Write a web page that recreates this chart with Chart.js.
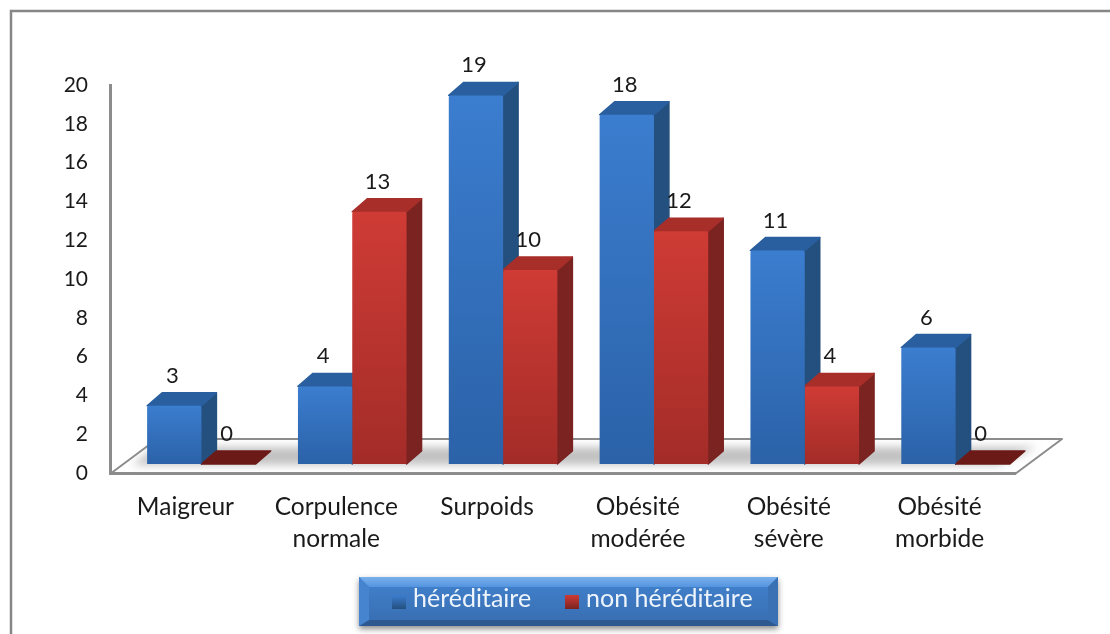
<!DOCTYPE html>
<html lang="fr">
<head>
<meta charset="utf-8">
<title>Hérédité et corpulence</title>
<script src="https://cdn.jsdelivr.net/npm/chart.js@4/dist/chart.umd.js"></script>
<style>
  html, body { margin: 0; padding: 0; background: #fff; }
  canvas { display: block; filter: blur(0.45px); }
</style>
</head>
<body>
<canvas id="chart" width="1110" height="634"></canvas>
<script>
'use strict';

// ── Data ──────────────────────────────────────────────────────────────────────

const categories = [
  'Maigreur',
  ['Corpulence', 'normale'],
  'Surpoids',
  ['Obésité', 'modérée'],
  ['Obésité', 'sévère'],
  ['Obésité', 'morbide'],
];
const hereditaire = [3, 4, 19, 18, 11, 6];
const nonHereditaire = [0, 13, 10, 12, 4, 0];

// ── Look ──────────────────────────────────────────────────────────────────────

const FONT = 'Lato, Carlito, sans-serif';
const TEXT = '#1a1a1a';
const LINE = '#8c8c8c';

// bars stand a bit behind the axis plane, and have this much depth
const FRONT_DX = 16, FRONT_DY = -9;
const DEPTH_DX = 15, DEPTH_DY = -13;
// floor depth, from the front edge to the back edge
const FLOOR_DX = 47, FLOOR_DY = -35;

const BLUE = { light: '#3b7dcf', dark: '#2b62a8', side: '#24507f', top: '#2a5f9f', zero: '#2a5f9f' };
const RED  = { light: '#cf3b35', dark: '#a32c28', side: '#7a2321', top: '#a82e2a', zero: '#6b1a17' };
const PALETTES = [BLUE, RED];

function frontGradient(pal) {
  return context => {
    if (!context.parsed) return pal.light;
    const { ctx, scales } = context.chart;
    const top = scales.y.getPixelForValue(context.parsed.y);
    const bottom = scales.y.getPixelForValue(0);
    if (!Number.isFinite(top) || !Number.isFinite(bottom)) return pal.light;
    const g = ctx.createLinearGradient(0, top, 0, bottom);
    g.addColorStop(0, pal.light);
    g.addColorStop(1, pal.dark);
    return g;
  };
}

// ── Frame and floor ───────────────────────────────────────────────────────────

const floorPlugin = {
  id: 'floor',
  beforeDatasetsDraw(chart) {
    const { ctx, chartArea: a } = chart;
    const y0 = chart.scales.y.getPixelForValue(0) + 1;

    ctx.save();
    // frame around the chart, only its top and left show in the crop
    ctx.strokeStyle = '#868686';
    ctx.lineWidth = 2.5;
    ctx.strokeRect(11, 11, chart.width + 20, chart.height + 20);

    // soft grey patch under the bars
    ctx.save();
    ctx.filter = 'blur(4px)';
    ctx.fillStyle = '#c2c2c2';
    ctx.beginPath();
    ctx.moveTo(a.left + 22, y0 - 9);
    ctx.lineTo(a.right - 17, y0 - 9);
    ctx.lineTo(a.right + 22, y0 - 27);
    ctx.lineTo(a.left + 46, y0 - 27);
    ctx.closePath();
    ctx.fill();
    ctx.restore();

    ctx.strokeStyle = LINE;
    ctx.lineWidth = 2;
    ctx.lineJoin = 'round';
    ctx.beginPath();
    ctx.moveTo(a.left, y0);
    ctx.lineTo(a.left + FLOOR_DX, y0 + FLOOR_DY);
    ctx.lineTo(a.right + FLOOR_DX, y0 + FLOOR_DY);
    ctx.lineTo(a.right, y0);
    ctx.stroke();
    ctx.restore();
  },
};

// ── 3D bars ───────────────────────────────────────────────────────────────────
// Sides and tops go down first, blue then red, since the red front has to
// cover the blue side. Chart.js then draws the front faces, shifted back.

const bar3dPlugin = {
  id: 'bar3d',
  beforeDatasetsDraw(chart) {
    const { ctx } = chart;
    ctx.save();
    ctx.translate(FRONT_DX, FRONT_DY);
    ctx.lineJoin = 'round';
    ctx.lineWidth = 1.5;
    chart.data.datasets.forEach((ds, i) => {
      const pal = PALETTES[i];
      chart.getDatasetMeta(i).data.forEach(bar => {
        const { x, y, width, base } = bar.getProps(['x', 'y', 'width', 'base']);
        const l = x - width / 2, r = x + width / 2;
        const zero = Math.abs(base - y) < 1;

        if (!zero) {
          ctx.fillStyle = ctx.strokeStyle = pal.side;
          ctx.beginPath();
          ctx.moveTo(r, y);
          ctx.lineTo(r + DEPTH_DX, y + DEPTH_DY);
          ctx.lineTo(r + DEPTH_DX, base + DEPTH_DY);
          ctx.lineTo(r, base);
          ctx.closePath();
          ctx.fill();
          ctx.stroke();
        }

        ctx.fillStyle = ctx.strokeStyle = zero ? pal.zero : pal.top;
        ctx.beginPath();
        ctx.moveTo(l, y);
        ctx.lineTo(l + DEPTH_DX, y + DEPTH_DY);
        ctx.lineTo(r + DEPTH_DX, y + DEPTH_DY);
        ctx.lineTo(r, y);
        ctx.closePath();
        ctx.fill();
        ctx.stroke();
      });
    });
    ctx.restore();
  },
  beforeDatasetDraw(chart) {
    chart.ctx.save();
    chart.ctx.translate(FRONT_DX, FRONT_DY);
  },
  afterDatasetDraw(chart) {
    chart.ctx.restore();
  },
};

// ── Value labels above each bar ───────────────────────────────────────────────

const valueLabelPlugin = {
  id: 'valueLabels',
  afterDatasetsDraw(chart) {
    const { ctx } = chart;
    ctx.save();
    ctx.font = `22px ${FONT}`;
    ctx.fillStyle = TEXT;
    ctx.textAlign = 'center';
    ctx.textBaseline = 'middle';
    chart.data.datasets.forEach((ds, i) => {
      chart.getDatasetMeta(i).data.forEach((bar, j) => {
        ctx.fillText(ds.data[j], bar.x + FRONT_DX - 2, bar.y + FRONT_DY + DEPTH_DY - 17);
      });
    });
    ctx.restore();
  },
};

// ── Legend box, bevelled ──────────────────────────────────────────────────────

const legendPlugin = {
  id: 'bevelLegend',
  afterDraw(chart) {
    const { ctx } = chart;
    const L = 359, T = 577, R = 778, B = 626, bevel = 10;

    ctx.save();
    ctx.shadowColor = 'rgba(0,0,0,.45)';
    ctx.shadowBlur = 6;
    ctx.shadowOffsetY = 3;
    ctx.fillStyle = '#3a72b8';
    ctx.fillRect(L, T, R - L, B - T);
    ctx.restore();

    const quad = (pts, fill) => {
      ctx.fillStyle = fill;
      ctx.beginPath();
      pts.forEach((p, i) => (i ? ctx.lineTo(p[0], p[1]) : ctx.moveTo(p[0], p[1])));
      ctx.closePath();
      ctx.fill();
    };
    ctx.save();
    const g = ctx.createLinearGradient(0, T + bevel, 0, B - bevel);
    g.addColorStop(0, '#3f7ec8');
    g.addColorStop(1, '#3a71b6');
    ctx.fillStyle = g;
    ctx.fillRect(L, T, R - L, B - T);
    const topBevel = ctx.createLinearGradient(0, T, 0, T + bevel);
    topBevel.addColorStop(0, '#7ab0ec');
    topBevel.addColorStop(1, '#5494df');
    quad([[L, T], [R, T], [R - bevel, T + bevel], [L + bevel, T + bevel]], topBevel);
    quad([[L, B], [R, B], [R - bevel, B - 6], [L + bevel, B - 6]], '#2e5890');
    quad([[L, T], [L + bevel, T + bevel], [L + bevel, B - 6], [L, B]], '#4684cf');
    quad([[R, T], [R - bevel, T + bevel], [R - bevel, B - 6], [R, B]], '#3a70b4');

    ctx.font = `25px ${FONT}`;
    ctx.textBaseline = 'middle';
    const items = [{ sx: 392, tx: 413, pal: BLUE }, { sx: 565, tx: 586, pal: RED }];
    chart.data.datasets.forEach((ds, i) => {
      const it = items[i];
      const sw = ctx.createLinearGradient(0, 595, 0, 609);
      sw.addColorStop(0, it.pal.light);
      sw.addColorStop(1, it.pal.side);
      ctx.fillStyle = sw;
      ctx.fillRect(it.sx, 595, 14, 14);
      ctx.fillStyle = '#eef4fb';
      ctx.fillText(ds.label, it.tx, 599);
    });
    ctx.restore();
  },
};

// ── Chart ─────────────────────────────────────────────────────────────────────

Chart.defaults.font.family = FONT;
Chart.defaults.font.size = 22;
Chart.defaults.color = TEXT;

new Chart(document.getElementById('chart').getContext('2d'), {
  type: 'bar',
  data: {
    labels: categories,
    datasets: [
      { label: 'héréditaire', data: hereditaire, backgroundColor: frontGradient(BLUE), borderRadius: 2 },
      { label: 'non héréditaire', data: nonHereditaire, backgroundColor: frontGradient(RED), borderRadius: 2 },
    ],
  },
  options: {
    responsive: false,
    animation: false,
    events: [],
    categoryPercentage: 0.72,
    barPercentage: 1,
    layout: { padding: { top: 85, right: 95 } },
    plugins: {
      legend: { display: false },
      tooltip: { enabled: false },
    },
    scales: {
      x: {
        afterFit: s => { s.height = 634 - 85 - 388; },
        grid: { display: false, drawTicks: false },
        border: { color: LINE, width: 3 },
        ticks: { padding: 19, maxRotation: 0, autoSkip: false, font: { size: 24.5, lineHeight: 1.27 } },
      },
      y: {
        min: 0,
        max: 20,
        afterFit: s => { s.width = 110; },
        grid: { display: false, drawTicks: false },
        border: { color: LINE, width: 3 },
        ticks: { stepSize: 2, padding: 22, font: { size: 21 } },
      },
    },
  },
  plugins: [floorPlugin, bar3dPlugin, valueLabelPlugin, legendPlugin],
});
</script>
</body>
</html>
